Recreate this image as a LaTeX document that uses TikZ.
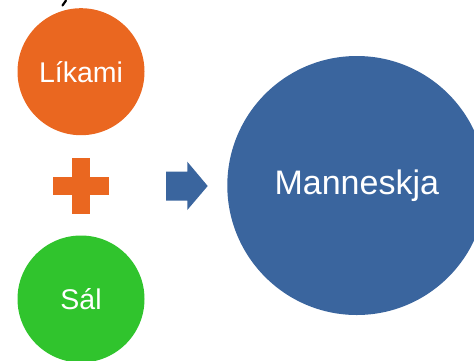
\documentclass[tikz,border=0pt]{standalone}
\usepackage{fontspec}
\setmainfont{Liberation Sans}
\definecolor{orng}{HTML}{EA6720}
\definecolor{grn}{HTML}{30C42D}
\definecolor{blu}{HTML}{3A659E}
\tikzset{
  ball/.style={circle, inner sep=0pt, text=white},
}
\begin{document}
\begin{tikzpicture}[x=1pt,y=1pt]
\useasboundingbox (0,0) rectangle (474,-360);
\clip (0,0) rectangle (474,-360);
% stray glyph fragment at top
\draw[line width=2.2pt, line cap=round] (66,-0.5) -- (62.5,-5.5);
% circles
\node[ball, fill=orng, minimum size=127pt, font=\fontsize{28.5}{30}\selectfont] (likami) at (81,-71.7) {Líkami};
\node[ball, fill=grn, minimum size=127pt, font=\fontsize{28.5}{30}\selectfont] (sal) at (81,-299) {Sál};
\node[ball, fill=blu, minimum size=259pt, font=\fontsize{34}{36}\selectfont] (mann) at (356.8,-185.5) {Manneskja};
% plus sign
\fill[orng] (72,-157.7) rectangle (90,-213.7);
\fill[orng] (53,-176.7) rectangle (109,-195);
% arrow
\fill[blu] (166,-171.7) -- (187.3,-171.7) -- (187.3,-161.7) -- (207.7,-186) -- (187.3,-210) -- (187.3,-200.7) -- (166,-200.7) -- cycle;
\end{tikzpicture}
\end{document}
